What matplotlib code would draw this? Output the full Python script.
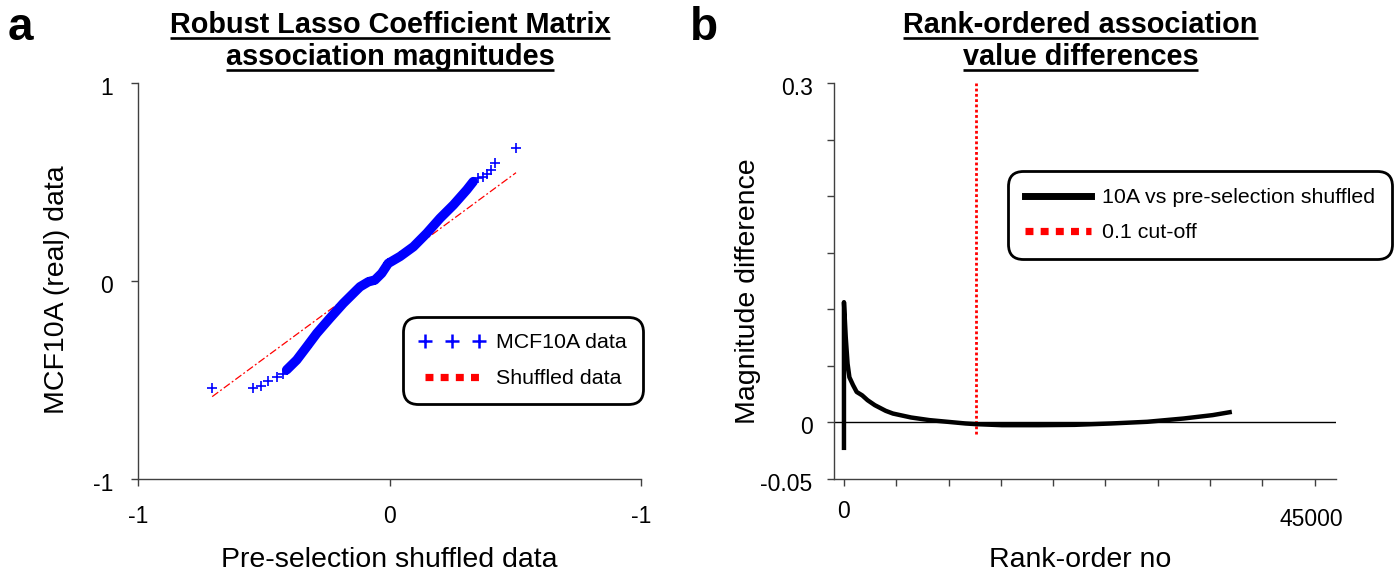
import matplotlib
matplotlib.use('Agg')
import matplotlib.pyplot as plt
import matplotlib.transforms as mtransforms
from matplotlib.lines import Line2D

plt.rcParams['font.family'] = ['Liberation Sans', 'DejaVu Sans']

# ---------------- data: panel a (Q-Q of association magnitudes) ----------------
qq_tail_low_x = [-0.705, -0.544, -0.512, -0.482, -0.446, -0.422, -0.402]
qq_tail_low_y = [-0.539, -0.539, -0.530, -0.503, -0.483, -0.470, -0.446]
qq_dense_x = [-0.409, -0.369, -0.329, -0.289, -0.237, -0.184, -0.130, -0.117,
              -0.084, -0.058, -0.031, -0.005, 0.042, 0.095, 0.148, 0.201,
              0.254, 0.307, 0.333]
qq_dense_y = [-0.449, -0.399, -0.332, -0.264, -0.188, -0.113, -0.045, -0.029,
              -0.004, 0.005, 0.039, 0.089, 0.124, 0.173, 0.241, 0.317,
              0.384, 0.460, 0.502]
qq_tail_high_x = [0.353, 0.373, 0.389, 0.402, 0.419, 0.503]
qq_tail_high_y = [0.519, 0.527, 0.540, 0.561, 0.594, 0.673]
ref_x = [-0.705, 0.503]
ref_y = [-0.584, 0.547]
a_xticks = [-1, 0, 1]
a_xticklabels = ['-1', '0', '-1']
a_yticks = [-1, 0, 1]
a_yticklabels = ['-1', '0', '1']

# ---------------- data: panel b (rank-ordered differences) ----------------
rank = [0, 0, 170, 345, 520, 870, 1215, 1740, 2255, 2950, 3990, 4680, 6420,
        8160, 9890, 11630, 12670, 15100, 18570, 22050, 25520, 28990, 32460,
        35240, 37080]
diff = [-0.0244, 0.1064, 0.0755, 0.052, 0.040, 0.033, 0.027, 0.024, 0.0197,
        0.0153, 0.0103, 0.0079, 0.0044, 0.0021, 0.0006, -0.0009, -0.0015,
        -0.0024, -0.0024, -0.0021, -0.0009, 0.0006, 0.0035, 0.0065, 0.0094]
cutoff_rank = 12600
cutoff_span = [-0.01, 0.3]
b_xticks = list(range(0, 45001, 5000))
b_yticks = [-0.05, 0.0, 0.05, 0.1, 0.15, 0.2, 0.25, 0.3]
b_ylabels = {-0.05: '-0.05', 0.0: '0', 0.3: '0.3'}

W, H = 1398, 578
fig = plt.figure(figsize=(W / 100, H / 100), dpi=100)

def fx(px):
    return px / W

def fy(py):
    return 1 - py / H

SPINE = '#404040'
BLUE = '#0000ff'
RED = '#ff0000'
TICKFS = 16.5

def style_axes(ax):
    for s in ['top', 'right']:
        ax.spines[s].set_visible(False)
    for s in ['left', 'bottom']:
        ax.spines[s].set_color(SPINE)
        ax.spines[s].set_linewidth(1.0)
    ax.tick_params(direction='out', length=5, width=1.0, color=SPINE,
                   labelsize=TICKFS)

# ---------------- panel a ----------------
axa = fig.add_axes([fx(138), fy(479), fx(641) - fx(138), fy(83) - fy(479)])
style_axes(axa)
axa.plot(ref_x, ref_y, color=RED, lw=0.9, ls=(0, (6, 2, 1.5, 2)), zorder=1)
axa.plot(qq_dense_x, qq_dense_y, color=BLUE, lw=6.8, solid_capstyle='round',
         solid_joinstyle='round', zorder=2)
all_x = qq_tail_low_x + qq_dense_x + qq_tail_high_x
all_y = qq_tail_low_y + qq_dense_y + qq_tail_high_y
axa.plot(all_x, all_y, ls='none', marker='+', ms=7.5, mew=1.2, color=BLUE,
         zorder=2)
axa.set_xlim(-1, 1)
axa.set_ylim(-1, 1)
axa.set_xticks(a_xticks)
axa.set_xticklabels(a_xticklabels)
axa.set_yticks(a_yticks)
axa.set_yticklabels(a_yticklabels)
axa.tick_params(axis='y', pad=13)
axa.tick_params(axis='x', pad=14)
off = mtransforms.ScaledTranslation(0, -3 / 100, fig.dpi_scale_trans)
for lab in axa.get_yticklabels():
    lab.set_transform(lab.get_transform() + off)

# ---------------- panel b ----------------
axb = fig.add_axes([fx(833.5), fy(479), fx(1335.6) - fx(833.5), fy(83.3) - fy(479)])
style_axes(axb)
axb.axhline(0, color='black', lw=1.0, zorder=1)
axb.plot(rank, diff, color='black', lw=3.2, solid_joinstyle='round',
         solid_capstyle='butt', zorder=3)
axb.plot([cutoff_rank, cutoff_rank], cutoff_span, color=RED, lw=2.0,
         ls=(0, (1.0, 0.9)), zorder=2)
axb.set_xlim(-1000, 47000)
axb.set_ylim(-0.05, 0.3)
axb.set_xticks(b_xticks)
axb.set_xticklabels(['0'] + [''] * (len(b_xticks) - 2) + ['45000'])
axb.set_yticks(b_yticks)
axb.set_yticklabels([b_ylabels.get(round(v, 2), '') for v in b_yticks])
axb.tick_params(axis='y', pad=10)
axb.tick_params(axis='x', pad=10)
for lab in axb.get_yticklabels():
    lab.set_transform(lab.get_transform() + off)
last = axb.get_xticklabels()[-1]
last.set_transform(last.get_transform() +
                   mtransforms.ScaledTranslation(-3 / 100, -8 / 100, fig.dpi_scale_trans))

# ---------------- axis labels ----------------
LABFS = 20.5
fig.text(fx(389.5), fy(560), 'Pre-selection shuffled data', ha='center', va='center', fontsize=LABFS)
fig.text(fx(57), fy(290), 'MCF10A (real) data', ha='center', va='center', rotation=90, fontsize=LABFS)
fig.text(fx(1080.5), fy(560), 'Rank-order no', ha='center', va='center', fontsize=LABFS)
fig.text(fx(748), fy(291), 'Magnitude difference', ha='center', va='center', rotation=90, fontsize=LABFS)

# ---------------- panel letters ----------------
fig.text(fx(8), fy(40), 'a', fontsize=33, fontweight='bold', va='baseline', ha='left')
fig.text(fx(690), fy(40), 'b', fontsize=33, fontweight='bold', va='baseline', ha='left')

# ---------------- titles (underlined) ----------------
TITFS = 20.8
titles = [
    ('Robust Lasso Coefficient Matrix', 390, 33),
    ('association magnitudes', 390, 65),
    ('Rank-ordered association', 1080.5, 33),
    ('value differences', 1080.5, 65),
]
title_artists = []
for txt, cx, base in titles:
    t = fig.text(fx(cx), fy(base), txt, ha='center', va='baseline',
                 fontsize=TITFS, fontweight='bold')
    title_artists.append((t, base))

# ---------------- legends ----------------
LEGFS = 15.4
h_a = [Line2D([], [], ls='none', marker='+', ms=10, mew=1.8, color=BLUE),
       Line2D([], [], color=RED, lw=5.2, ls=(0, (1.1, 1.0)))]
leg_a = fig.legend(h_a, ['MCF10A data', 'Shuffled data'], loc='upper left',
                   bbox_to_anchor=(fx(403), fy(317)), bbox_transform=fig.transFigure,
                   borderaxespad=0, fontsize=LEGFS, numpoints=3, handlelength=3.1,
                   handletextpad=0.5, labelspacing=0.8, borderpad=0.75,
                   frameon=True, fancybox=True, framealpha=1, edgecolor='black')
h_b = [Line2D([], [], color='black', lw=5.0),
       Line2D([], [], color=RED, lw=5.2, ls=(0, (1.1, 1.0)))]
leg_b = fig.legend(h_b, ['10A vs pre-selection shuffled', '0.1 cut-off'], loc='upper left',
                   bbox_to_anchor=(fx(1008), fy(171)), bbox_transform=fig.transFigure,
                   borderaxespad=0, fontsize=LEGFS, handlelength=3.1,
                   handletextpad=0.5, labelspacing=0.75, borderpad=0.8,
                   frameon=True, fancybox=True, framealpha=1, edgecolor='black')
for lg in (leg_a, leg_b):
    fr = lg.get_frame()
    fr.set_linewidth(2.0)
    fr.set_boxstyle('round', pad=0, rounding_size=0.7)

fig.canvas.draw()
renderer = fig.canvas.get_renderer()
inv = fig.transFigure.inverted()
for t, base in title_artists:
    bb = t.get_window_extent(renderer)
    (x0, _), (x1, _) = inv.transform([(bb.x0, 0), (bb.x1, 0)])
    yy = fy(base + 5)
    fig.add_artist(Line2D([x0, x1], [yy, yy], transform=fig.transFigure,
                          color='black', lw=1.9, solid_capstyle='butt'))

fig.savefig('out.png', dpi=100)
